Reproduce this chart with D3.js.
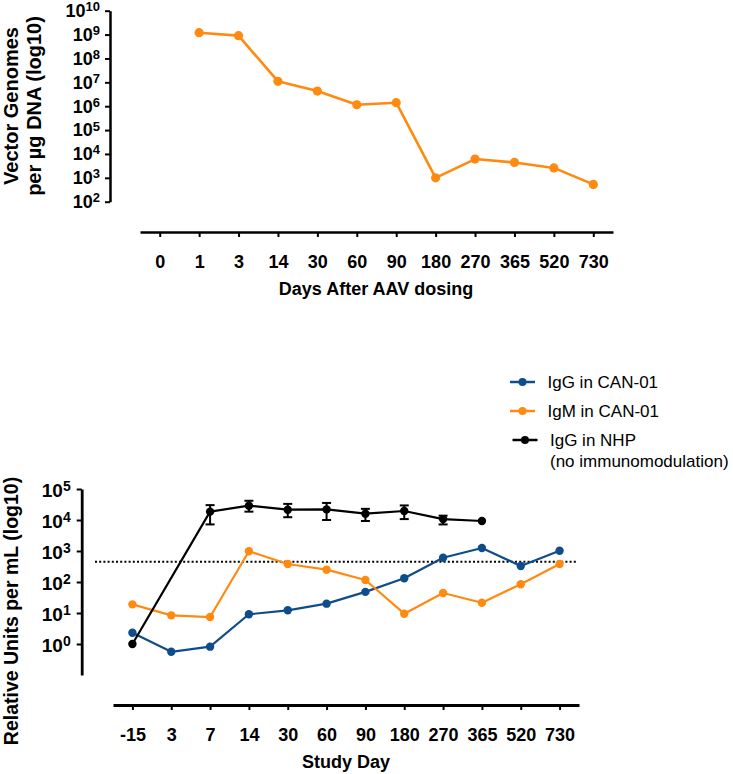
<!DOCTYPE html>
<html>
<head>
<meta charset="utf-8">
<script src="https://cdn.jsdelivr.net/npm/d3@7"></script>
<style>
  html, body { margin: 0; padding: 0; background: #fff; }
  svg { display: block; font-family: "Liberation Sans", Arial, Helvetica, sans-serif; }
</style>
</head>
<body>
<svg id="chart" width="733" height="774"></svg>
<script>
// ---------------- DATA ----------------
// Top panel
const topDays = ["0", "1", "3", "14", "30", "60", "90", "180", "270", "365", "520", "730"];
const vectorGenomes = [null, 1.2e9, 9.0e8, 1.1e7, 4.3e6, 1.15e6, 1.4e6, 1.0e3, 6.1e3, 4.4e3, 2.6e3, 5.3e2];
const topYExponents = [2, 3, 4, 5, 6, 7, 8, 9, 10];

// Bottom panel
const studyDays = ["-15", "3", "7", "14", "30", "60", "90", "180", "270", "365", "520", "730"];
const iggCan01 = [2.3, 0.56, 0.82, 9.1, 12.2, 20, 48, 132, 605, 1250, 330, 1020];
const igmCan01 = [19, 8.4, 7.4, 980, 380, 250, 116, 9.5, 44, 21.5, 85, 380];
const iggNhp   = [1.0, null, 18600, 29000, 21500, 22000, 16000, 19500, 10700, 9300, null, null];
const iggNhpLow  = [null, null, 7200, 18600, 12300, 10000, 9300, 10700, 7200, null, null, null];
const iggNhpHigh = [null, null, 30200, 41700, 33100, 35500, 22900, 29500, 13800, null, null, null];
const bottomYExponents = [0, 1, 2, 3, 4, 5];
const thresholdValue = 450;

const legendLabels = [["IgG in CAN-01"], ["IgM in CAN-01"], ["IgG in NHP", "(no immunomodulation)"]];

const ORANGE = "#ff8a10";
const BLUE = "#0f4c8a";
const BLACK = "#000000";

// ---------------- DRAW ----------------
const svg = d3.select("#chart");

function supLabels(g, scale, exps, axisX, opts) {
  const t = g.selectAll("text.lbl").data(exps).join("text")
    .attr("class", "lbl")
    .attr("x", axisX - opts.gap)
    .attr("y", d => scale(Math.pow(10, d)) + opts.baseOff)
    .attr("text-anchor", "end")
    .attr("font-weight", "bold")
    .attr("font-size", opts.fs);
  t.append("tspan").text("10");
  t.append("tspan").attr("dy", -opts.supShift).attr("font-size", opts.supFs).text(d => d);
}

// ===== TOP CHART =====
const tX = d3.scalePoint().domain(topDays).range([140, 613]).padding(0.5);
const tY = d3.scaleLog().domain([1e2, 1e10]).range([201.7, 10.7]);
const tAxisY = 232;
const tAxisX = 110;

svg.append("g")
  .attr("transform", `translate(0,${tAxisY})`)
  .call(d3.axisBottom(tX).tickSize(5).tickSizeOuter(0).tickPadding(18))
  .call(g => g.select(".domain").attr("stroke-width", 2.5))
  .call(g => g.selectAll(".tick line").attr("stroke-width", 2))
  .call(g => g.selectAll(".tick text").attr("font-size", 18).attr("font-weight", "bold")
    .attr("font-family", "Liberation Sans, Arial, sans-serif").attr("fill", "#000"));

svg.append("g")
  .attr("transform", `translate(${tAxisX},0)`)
  .call(d3.axisLeft(tY).tickValues(topYExponents.map(e => Math.pow(10, e))).tickFormat("").tickSize(5).tickSizeOuter(0))
  .call(g => g.select(".domain").attr("stroke-width", 2.5))
  .call(g => g.selectAll(".tick line").attr("stroke-width", 2));
supLabels(svg.append("g"), tY, topYExponents, tAxisX, { gap: 10, baseOff: 6.3, fs: 18, supFs: 13, supShift: 5.8 });

// y title
const tTitle = svg.append("text")
  .attr("transform", `translate(0,106) rotate(-90)`)
  .attr("text-anchor", "middle")
  .attr("font-weight", "bold")
  .attr("font-size", 20);
tTitle.append("tspan").attr("x", 0).attr("y", 17.5).text("Vector Genomes");
tTitle.append("tspan").attr("x", 0).attr("y", 40.5).text("per µg DNA (log10)");

svg.append("text")
  .attr("x", 376).attr("y", 295)
  .attr("text-anchor", "middle").attr("font-weight", "bold").attr("font-size", 18)
  .text("Days After AAV dosing");

const topPts = topDays.map((d, i) => ({ d, v: vectorGenomes[i] })).filter(p => p.v != null);
svg.append("path")
  .datum(topPts)
  .attr("fill", "none").attr("stroke", ORANGE).attr("stroke-width", 2.6).attr("stroke-linejoin", "round")
  .attr("d", d3.line().x(p => tX(p.d)).y(p => tY(p.v)));
svg.append("g").selectAll("circle").data(topPts).join("circle")
  .attr("cx", p => tX(p.d)).attr("cy", p => tY(p.v)).attr("r", 4.6).attr("fill", ORANGE);

// ===== BOTTOM CHART =====
const bX = d3.scalePoint().domain(studyDays).range([113, 579]).padding(0.5);
const bY = d3.scaleLog().domain([0.1, 1e5]).range([675, 489]);
const bAxisY = 705;
const bAxisX = 81.7;

svg.append("g")
  .attr("transform", `translate(0,${bAxisY})`)
  .call(d3.axisBottom(bX).tickSize(5).tickSizeOuter(0).tickPadding(18))
  .call(g => g.select(".domain").attr("stroke-width", 2.8))
  .call(g => g.selectAll(".tick line").attr("stroke-width", 2))
  .call(g => g.selectAll(".tick text").attr("font-size", 18).attr("font-weight", "bold")
    .attr("font-family", "Liberation Sans, Arial, sans-serif").attr("fill", "#000"));

svg.append("g")
  .attr("transform", `translate(${bAxisX},0)`)
  .call(d3.axisLeft(bY).tickValues(bottomYExponents.map(e => Math.pow(10, e))).tickFormat("").tickSize(5).tickSizeOuter(0))
  .call(g => g.select(".domain").attr("stroke-width", 2.8))
  .call(g => g.selectAll(".tick line").attr("stroke-width", 2));
supLabels(svg.append("g"), bY, bottomYExponents, bAxisX, { gap: 11, baseOff: 7.5, fs: 19, supFs: 14, supShift: 5.5 });

svg.append("text")
  .attr("transform", `translate(18,611) rotate(-90)`)
  .attr("text-anchor", "middle").attr("font-weight", "bold").attr("font-size", 19.5)
  .text("Relative Units per mL (log10)");

svg.append("text")
  .attr("x", 346).attr("y", 768)
  .attr("text-anchor", "middle").attr("font-weight", "bold").attr("font-size", 18)
  .text("Study Day");

// threshold dotted line
svg.append("line")
  .attr("x1", 95).attr("x2", 577)
  .attr("y1", bY(thresholdValue)).attr("y2", bY(thresholdValue))
  .attr("stroke", "#000").attr("stroke-width", 2).attr("stroke-dasharray", "2,2.2");

function series(values, color, r, sw) {
  const pts = studyDays.map((d, i) => ({ d, v: values[i], i })).filter(p => p.v != null);
  svg.append("path").datum(pts)
    .attr("fill", "none").attr("stroke", color).attr("stroke-width", sw).attr("stroke-linejoin", "round")
    .attr("d", d3.line().x(p => bX(p.d)).y(p => bY(p.v)));
  svg.append("g").selectAll("circle").data(pts).join("circle")
    .attr("cx", p => bX(p.d)).attr("cy", p => bY(p.v)).attr("r", r).attr("fill", color);
  return pts;
}

// NHP error bars
const errPts = studyDays.map((d, i) => ({ d, lo: iggNhpLow[i], hi: iggNhpHigh[i] })).filter(p => p.lo != null);
const eg = svg.append("g").attr("stroke", BLACK).attr("stroke-width", 2);
eg.selectAll("line.v").data(errPts).join("line").attr("class", "v")
  .attr("x1", p => bX(p.d)).attr("x2", p => bX(p.d)).attr("y1", p => bY(p.lo)).attr("y2", p => bY(p.hi));
eg.selectAll("line.t").data(errPts).join("line").attr("class", "t")
  .attr("x1", p => bX(p.d) - 4.5).attr("x2", p => bX(p.d) + 4.5).attr("y1", p => bY(p.hi)).attr("y2", p => bY(p.hi));
eg.selectAll("line.b").data(errPts).join("line").attr("class", "b")
  .attr("x1", p => bX(p.d) - 4.5).attr("x2", p => bX(p.d) + 4.5).attr("y1", p => bY(p.lo)).attr("y2", p => bY(p.lo));

series(iggCan01, BLUE, 4.2, 2.2);
series(igmCan01, ORANGE, 4.2, 2.2);
series(iggNhp, BLACK, 4.2, 2.2);

// legend
const legendColors = [BLUE, ORANGE, BLACK];
const legendY = [382, 411, 440];
const legendX0 = [510, 510, 512.5];
const lg = svg.append("g").selectAll("g").data(legendLabels).join("g")
  .attr("transform", (d, i) => `translate(${legendX0[i]},${legendY[i]})`);
lg.append("line").attr("x1", 0).attr("x2", 25).attr("y1", 0).attr("y2", 0)
  .attr("stroke", (d, i) => legendColors[i]).attr("stroke-width", 2.5);
lg.append("circle").attr("cx", 12.5).attr("cy", 0).attr("r", 4).attr("fill", (d, i) => legendColors[i]);
const lt = lg.append("text").attr("font-size", 17).attr("fill", "#000");
lt.selectAll("tspan").data(d => d).join("tspan")
  .attr("x", 37.5).attr("y", (d, j) => 6 + j * 21).text(d => d);
</script>
</body>
</html>
